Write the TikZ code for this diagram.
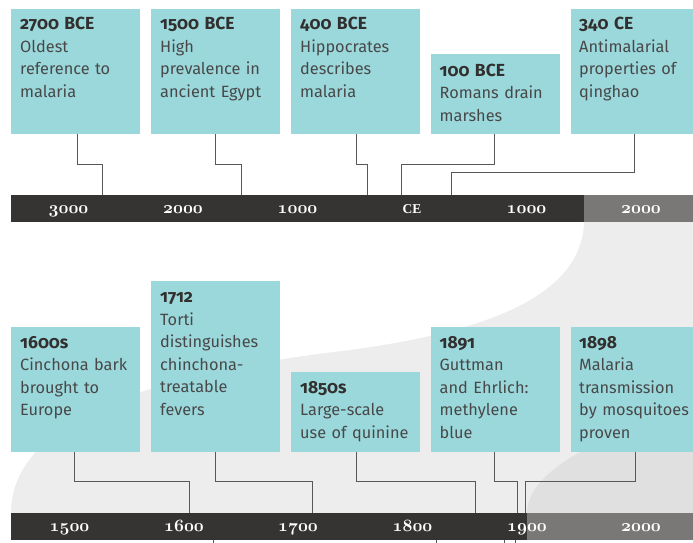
\documentclass[tikz,border=0pt]{standalone}
\usepackage{fontspec}
\setmainfont{Fira Sans}[Numbers=OldStyle]
\newfontfamily\capsfont{Liberation Serif}

\definecolor{boxc}{RGB}{155,216,220}
\definecolor{hdc}{RGB}{50,48,47}
\definecolor{bodyc}{RGB}{72,72,72}
\definecolor{bardark}{RGB}{54,52,50}
\definecolor{barlite}{RGB}{122,120,118}
\definecolor{bgA}{RGB}{237,237,237}
\definecolor{bgB}{RGB}{224,224,224}
\definecolor{linec}{RGB}{88,88,88}

% old-style bold serif figures for the scale bars
\newcommand\yrnum[1]{{\fontencoding{OML}\fontfamily{cmm}\fontseries{b}\fontshape{it}\fontsize{18}{18}\selectfont #1}}
\newcommand\yrcaps[1]{{\capsfont\bfseries\fontsize{13.5}{13.5}\selectfont #1}}
\newcommand\hd[1]{{\bfseries\color{hdc}\fontsize{17.5}{22.5}\selectfont #1}}

\tikzset{
  evbox/.style={fill=boxc, draw=none, inner sep=0pt, anchor=north west, minimum width=129pt},
  evtxt/.style={anchor=base west, inner sep=0pt, text width=125pt, align=left,
                text=bodyc, font=\fontsize{16.3}{22.5}\selectfont},
  barpart/.style={draw=none, inner sep=0pt, anchor=north west, minimum height=27pt},
  barlbl/.style={anchor=base, inner sep=0pt, text=white},
  conn/.style={draw=linec, line width=1pt},
}

\begin{document}
\begin{tikzpicture}[x=1pt,y=-1pt]
\useasboundingbox (0,0) rectangle (693,543);

% soft background bands
\fill[bgA] (584,222) -- (693,222) -- (693,513) -- (11,513)
  .. controls (11,435) and (110,378) .. (350,350)
  .. controls (460,335) and (582,305) .. (584,222) -- cycle;
\fill[bgB] (527,513) .. controls (527,475) and (590,435) .. (693,415)
  -- (693,513) -- cycle;

% ---------- upper scale: 3000 BCE to 2000 CE ----------
\node[barpart, fill=bardark, minimum width=573pt] (topbar) at (11,195) {};
\node[barpart, fill=barlite, minimum width=109pt] (topend) at (584,195) {};
\node[barlbl] (u1) at (68.5,213) {\yrnum{3000}};
\node[barlbl] (u2) at (183,213) {\yrnum{2000}};
\node[barlbl] (u3) at (297.5,213) {\yrnum{1000}};
\node[barlbl] (u4) at (412,213) {\yrcaps{CE}};
\node[barlbl] (u5) at (526.5,213) {\yrnum{1000}};
\node[barlbl] (u6) at (641,213) {\yrnum{2000}};

\node[evbox, minimum height=125pt] (e1) at (11,9) {};
\node[evbox, minimum height=125pt] (e2) at (151,9) {};
\node[evbox, minimum height=125pt] (e3) at (291,9) {};
\node[evbox, minimum height=80pt] (e4) at (431,54) {};
\node[evbox, minimum height=125pt, minimum width=122pt] (e5) at (571,9) {};

\node[evtxt] (t1) at (20,30) {\hd{2700 BCE}\\Oldest\\reference to\\malaria};
\node[evtxt] (t2) at (160,30) {\hd{1500 BCE}\\High\\prevalence in\\ancient Egypt};
\node[evtxt] (t3) at (300,30) {\hd{400 BCE}\\Hippocrates\\describes\\malaria};
\node[evtxt] (t4) at (439.5,76) {\hd{100 BCE}\\Romans drain\\marshes};
\node[evtxt] (t5) at (579,30) {\hd{340 CE}\\Antimalarial\\properties of\\qinghao};

\coordinate (k1) at (102,195);
\coordinate (k2) at (241,195);
\coordinate (k3) at (367,195);
\coordinate (k4) at (401,195);
\coordinate (k5) at (451,195);

\draw[conn] ([xshift=66pt]e1.south west) |- ([yshift=31pt]k1) -- (k1);
\draw[conn] ([xshift=64pt]e2.south west) |- ([yshift=31pt]k2) -- (k2);
\draw[conn] ([xshift=65pt]e3.south west) |- ([yshift=31pt]k3) -- (k3);
\draw[conn] ([xshift=63pt]e4.south west) |- ([yshift=31pt]k4) -- (k4);
\draw[conn] ([xshift=63pt]e5.south west) |- ([yshift=23pt]k5) -- (k5);

% ---------- lower scale: 1500 to 2000 ----------
\node[barpart, fill=bardark, minimum width=516pt] (lowbar) at (11,513) {};
\node[barpart, fill=barlite, minimum width=166pt] (lowend) at (527,513) {};
\node[barlbl] (l1) at (69.5,531.5) {\yrnum{1500}};
\node[barlbl] (l2) at (184,531.5) {\yrnum{1600}};
\node[barlbl] (l3) at (298,531.5) {\yrnum{1700}};
\node[barlbl] (l4) at (412.5,531.5) {\yrnum{1800}};
\node[barlbl] (l5) at (527,531.5) {\yrnum{1900}};
\node[barlbl] (l6) at (641,531.5) {\yrnum{2000}};

\node[evbox, minimum height=125pt] (f1) at (11,327) {};
\node[evbox, minimum height=171pt] (f2) at (151,281) {};
\node[evbox, minimum height=80pt] (f3) at (291,372) {};
\node[evbox, minimum height=125pt] (f4) at (431,327) {};
\node[evbox, minimum height=125pt, minimum width=122pt] (f5) at (571,327) {};

\node[evtxt] (s1) at (20,348) {\hd{1600s}\\Cinchona bark\\brought to\\Europe};
\node[evtxt] (s2) at (160,302.5) {\hd{1712}\\Torti\\distinguishes\\chinchona-\\treatable\\fevers};
\node[evtxt] (s3) at (300,393) {\hd{1850s}\\Large-scale\\use of quinine};
\node[evtxt] (s4) at (439.5,348) {\hd{1891}\\Guttman\\and Ehrlich:\\methylene\\blue};
\node[evtxt] (s5) at (579,348) {\hd{1898}\\Malaria\\transmission\\by mosquitoes\\proven};

\coordinate (m1) at (189,513);
\coordinate (m2) at (312,513);
\coordinate (m3) at (475,513);
\coordinate (m4) at (517,513);
\coordinate (m5) at (525,513);

\draw[conn] ([xshift=63pt]f1.south west) |- ([yshift=32pt]m1) -- (m1);
\draw[conn] ([xshift=64pt]f2.south west) |- ([yshift=32pt]m2) -- (m2);
\draw[conn] ([xshift=65pt]f3.south west) |- ([yshift=32pt]m3) -- (m3);
\draw[conn] ([xshift=63pt]f4.south west) |- ([yshift=32pt]m4) -- (m4);
\draw[conn] ([xshift=64pt]f5.south west) |- ([yshift=32pt]m5) -- (m5);

% leaders continuing below the lower scale
\coordinate (n1) at (213,540);
\coordinate (n2) at (436,540);
\coordinate (n3) at (504,540);
\coordinate (n4) at (515,540);
\draw[conn] (n1) -- ([yshift=-10pt]n1);
\draw[conn] (n2) -- ([yshift=-10pt]n2);
\draw[conn] (n3) -- ([yshift=-10pt]n3);
\draw[conn] (n4) -- ([yshift=-10pt]n4);
\end{tikzpicture}
\end{document}
